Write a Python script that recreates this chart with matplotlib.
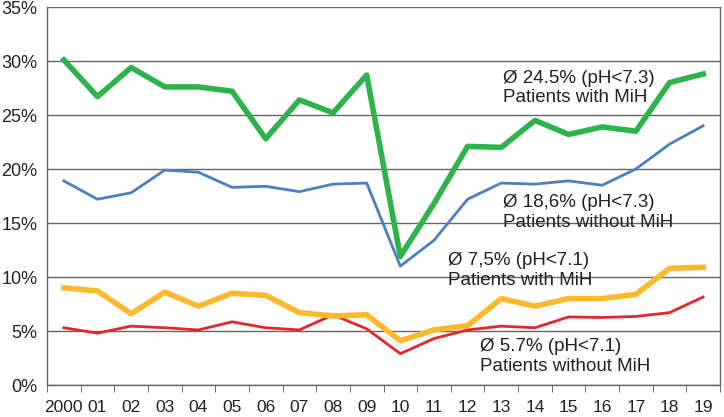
import numpy as np
import matplotlib.pyplot as plt
from matplotlib.ticker import FixedLocator, PercentFormatter

plt.rcParams['font.family'] = ['Liberation Sans', 'DejaVu Sans']

years = ["2000", "01", "02", "03", "04", "05", "06", "07", "08", "09",
         "10", "11", "12", "13", "14", "15", "16", "17", "18", "19"]

mih_73 = [30.1, 26.7, 29.4, 27.6, 27.6, 27.2, 22.8, 26.4, 25.2, 28.7,
          11.9, 16.8, 22.1, 22.0, 24.5, 23.2, 23.9, 23.5, 28.0, 28.8]
no_mih_73 = [18.9, 17.2, 17.8, 19.9, 19.7, 18.3, 18.4, 17.9, 18.6, 18.7,
             11.0, 13.4, 17.2, 18.7, 18.6, 18.9, 18.5, 20.0, 22.3, 24.0]
mih_71 = [9.0, 8.7, 6.6, 8.6, 7.3, 8.5, 8.3, 6.7, 6.4, 6.5,
          4.1, 5.1, 5.5, 8.0, 7.3, 8.0, 8.0, 8.4, 10.8, 10.9]
no_mih_71 = [5.3, 4.8, 5.45, 5.3, 5.1, 5.85, 5.3, 5.1, 6.5, 5.2,
             2.9, 4.3, 5.1, 5.45, 5.3, 6.3, 6.25, 6.35, 6.7, 8.15]

x = np.arange(len(years))

fig = plt.figure(figsize=(7.24, 4.17), dpi=100)
ax = fig.add_axes([47 / 724, 32 / 417, 673 / 724, 378 / 417])

ax.plot(x, no_mih_73, color="#4a7fc1", lw=2.0, zorder=3)
ax.plot(x, mih_73, color="#2db34a", lw=4.0, zorder=4)
ax.plot(x, no_mih_71, color="#e3262b", lw=2.0, zorder=3)
ax.plot(x, mih_71, color="#fbb92b", lw=4.0, zorder=4)

ax.set_xlim(-0.5, len(years) - 0.5)
ax.set_ylim(0, 35)
ax.set_yticks(np.arange(0, 36, 5))
ax.yaxis.set_major_formatter(PercentFormatter(decimals=0))
ax.set_xticks(x)
ax.set_xticklabels(years)
ax.xaxis.set_minor_locator(FixedLocator(np.arange(-0.5, len(years), 1)))
ax.tick_params(axis="x", which="major", length=0, pad=11, labelsize=12.5, labelcolor="#222222")
ax.tick_params(axis="x", which="minor", length=5, color="#555555", direction="out")
ax.tick_params(axis="y", length=0, pad=7, labelsize=13, labelcolor="#222222")

ax.grid(axis="y", color="#666666", lw=1.0, zorder=1)
for s in ax.spines.values():
    s.set_color("#666666")
    s.set_linewidth(1.0)
ax.spines["top"].set_visible(False)

txt = dict(fontsize=13.5, color="#222222", va="center", ha="left", linespacing=1.2, zorder=5)
ax.text(13.05, 27.5, "Ø 24.5% (pH<7.3)\nPatients with MiH", **txt)
ax.text(13.05, 16.0, "Ø 18,6% (pH<7.3)\nPatients without MiH", **txt)
ax.text(11.42, 10.6, "Ø 7,5% (pH<7.1)\nPatients with MiH", **txt)
ax.text(12.37, 2.63, "Ø 5.7% (pH<7.1)\nPatients without MiH", **txt)

plt.savefig("out.png", dpi=100)
